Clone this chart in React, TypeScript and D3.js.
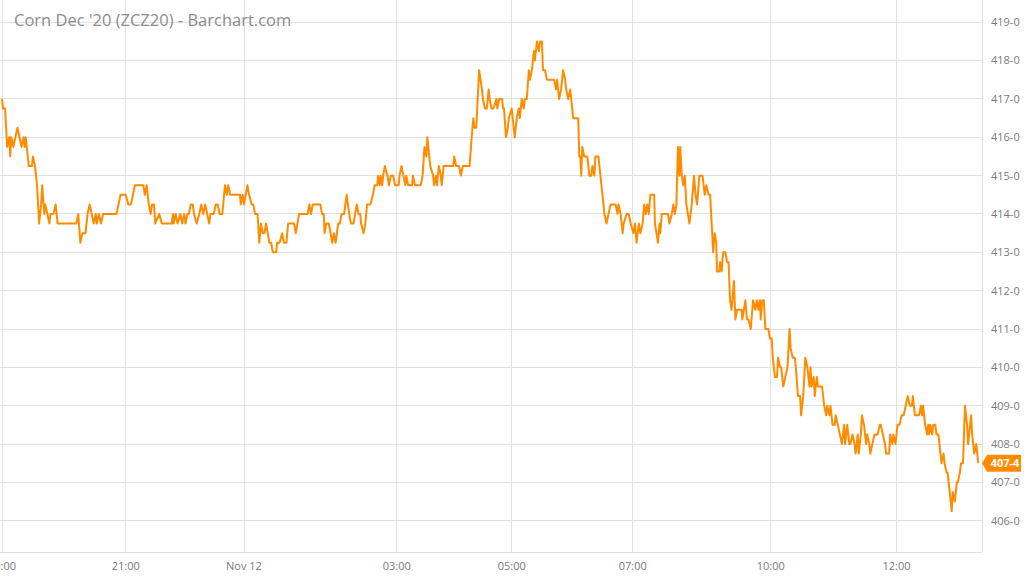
import React from "react";
import * as d3 from "d3";

// minutes after the 19:00 open (Nov 11), price in cents
const evening: [number, number][] = [
  [0, 417], [1, 416.75], [3, 416.75], [5, 415.75], [7, 416], [8, 415.5], [9, 416], [11, 415.75], [13, 416],
  [15, 416.25], [17, 416], [19, 415.75], [21, 416], [22, 415.75], [23, 416], [26, 415.25], [29, 415.25],
  [30, 415.5], [32, 415.25], [34, 414.75], [36, 413.75], [38, 414.25], [39, 414.75], [41, 414], [42, 414.25],
  [44, 414], [46, 413.75], [47, 414], [50, 414], [52, 414.25], [54, 413.75], [72, 413.75], [74, 414],
  [76, 413.25], [78, 413.5], [81, 413.5], [83, 414], [85, 414.25], [87, 414], [89, 413.75], [91, 414],
  [92, 413.75], [94, 414], [96, 413.75], [98, 414], [111, 414], [113, 414.25], [115, 414.5], [120, 414.5],
  [124, 414.25], [128, 414.25], [131, 414.5], [134, 414.75], [147, 414.75], [149, 414.5], [152, 414.75],
  [155, 414.25], [158, 414], [160, 414.25], [163, 414.25], [165, 413.75], [171, 414], [175, 413.75],
  [190, 413.75], [192, 414], [193, 413.75], [196, 414], [199, 413.75], [203, 414], [206, 413.75], [209, 414],
  [211, 413.75], [214, 414], [216, 414], [219, 414.25], [222, 414.25], [224, 414], [228, 413.75], [232, 414],
  [235, 414.25], [238, 414], [241, 414.25], [244, 414], [247, 413.75], [249, 414], [254, 414], [257, 414.25],
  [260, 414.25], [263, 414], [267, 414], [271, 414.75], [274, 414.5], [276, 414.75], [279, 414.5],
  [294, 414.5], [295, 414.25], [298, 414.5],
];

const overnight: [number, number][] = [
  [300, 414.25], [302, 414.5], [304, 414.75], [306, 414.5], [309, 414.25], [311, 414.25], [313, 414],
  [316, 414], [318, 413.25], [320, 413.75], [322, 413.5], [324, 413.5], [326, 413.75], [328, 413.5],
  [330, 413.25], [332, 413.25], [334, 413], [338, 413], [339, 413.25], [342, 413.25], [345, 413.5],
  [347, 413.25], [350, 413.25], [352, 413.75], [359, 413.75], [361, 413.5], [363, 413.75], [365, 414],
  [369, 414], [375, 414], [377, 414.25], [379, 414], [381, 414.25], [390, 414.25], [392, 414], [394, 414],
  [395, 413.5], [397, 413.75], [400, 413.75], [402, 413.5], [404, 413.25], [406, 413.5], [408, 413.25],
  [411, 413.75], [413, 413.75], [415, 414], [418, 414], [421, 414.5], [424, 414], [426, 413.75],
  [429, 413.75], [431, 414], [433, 414.25], [435, 414], [437, 414], [438, 413.75], [441, 413.5],
  [443, 413.75], [445, 414.25], [449, 414.25], [452, 414.5], [454, 414.75], [457, 414.75], [458, 415],
  [460, 414.75], [461, 415], [463, 414.75], [464, 415], [466, 415.25], [469, 415], [471, 414.75], [473, 415],
  [476, 415], [478, 414.75], [482, 414.75], [483, 415], [485, 415.25], [487, 415], [489, 414.75], [490, 415],
  [492, 414.75], [496, 414.75], [497, 415], [499, 414.75], [505, 414.75], [507, 415], [509, 415.75],
  [511, 415.5], [512, 416], [514, 415.5], [515, 415.25], [518, 415], [519, 414.75], [521, 415],
  [522, 414.75], [524, 415.25], [526, 415], [527, 414.75], [529, 415.25], [531, 415.25], [539, 415.25],
  [540, 415.5], [542, 415.25], [545, 415.25], [547, 415], [549, 415.25], [556, 415.25], [559, 416.25],
  [560, 416.5], [561, 416.25], [563, 416.25], [566, 417.75], [569, 417.25], [570, 417], [572, 416.75],
  [574, 416.75], [576, 417.25], [577, 417], [579, 416.75], [581, 416.75], [584, 417], [585, 416.75],
  [587, 417], [590, 417], [591, 416.75], [592, 416.75], [594, 416], [596, 416.25], [597, 416.5],
];

const morning: [number, number][] = [
  [600, 416.75], [602, 416.25], [603, 416], [605, 416.5], [607, 416.75], [608, 416.5], [610, 417],
  [612, 416.75], [613, 417], [615, 417], [617, 417.75], [618, 417.5], [620, 417.75], [622, 418.25],
  [623, 418], [624, 418.25], [625, 418.5], [627, 418.25], [628, 418.5], [630, 418.5], [631, 417.75],
  [633, 417.75], [635, 417.5], [642, 417.5], [644, 417.25], [645, 417.5], [647, 417], [649, 417.25],
  [651, 417.75], [653, 417.5], [654, 417.25], [656, 417], [658, 417.25], [659, 417], [661, 416.5],
  [666, 416.5], [667, 415.5], [668, 415.5], [669, 415], [670, 415.75], [672, 415.5], [675, 415.5],
  [677, 415], [679, 415], [680, 415.25], [682, 415], [683, 415.5], [686, 415.5], [688, 415], [690, 414.5],
  [692, 414], [694, 413.75], [696, 414], [698, 414.25], [703, 414.25], [705, 414], [706, 414.25], [708, 414],
  [710, 413.5], [711, 413.75], [714, 414], [716, 414], [718, 413.75], [721, 413.5], [723, 413.75],
  [725, 413.25], [728, 413.75], [730, 413.5], [733, 413.75], [735, 414.25], [737, 414], [739, 414.25],
  [741, 414], [743, 414.5], [746, 414.5], [748, 414.5], [749, 413.75], [751, 413.5], [753, 413.25],
  [755, 413.75], [756, 413.5], [758, 414], [766, 414], [768, 413.75], [771, 414], [773, 414.25], [775, 414],
  [777, 414.25], [779, 415.75], [781, 415], [782, 415.75], [784, 415], [786, 414.75], [788, 415],
  [790, 414.25], [792, 414], [794, 413.75], [797, 414.25], [798, 414.5], [800, 415], [802, 414.5],
  [804, 414.25], [807, 415], [811, 415], [814, 414.5], [816, 414.75], [819, 414.5], [821, 414.5],
  [823, 413.75], [825, 413], [827, 413.5], [829, 413.25], [830, 412.5], [833, 412.5], [834, 412.75],
  [836, 412.5], [838, 413], [841, 413], [843, 412.75], [845, 412.75], [847, 411.75], [849, 411.5],
  [852, 412.25], [854, 411.25], [856, 411.5], [862, 411.5], [863, 411.25], [865, 411.5], [867, 411.75],
  [869, 411.25], [871, 411.25], [874, 411], [877, 411.75], [880, 411.5], [882, 411.75], [884, 411.5],
  [886, 411.75], [887, 411.25], [889, 411.75], [891, 411.75], [893, 411], [897, 411], [899, 410.75],
];

const midday: [number, number][] = [
  [901, 410.75], [902, 410.25], [904, 409.75], [906, 409.75], [907, 410.25], [909, 410], [910, 410],
  [912, 409.5], [914, 409.75], [916, 410], [918, 411], [919, 410.5], [921, 410.25], [923, 410.25],
  [924, 410], [926, 409.25], [928, 409.25], [929, 408.75], [931, 409.25], [933, 410.25], [935, 410],
  [937, 409.5], [938, 410], [939, 409.5], [941, 409.75], [942, 409.25], [944, 409.75], [945, 409.5],
  [949, 409.5], [951, 409], [953, 408.75], [954, 409], [956, 408.75], [957, 409], [959, 408.5], [961, 408.5],
  [962, 408.75], [964, 408.5], [966, 408.25], [968, 408], [970, 408.5], [971, 408], [973, 408.5], [975, 408],
  [976, 408], [978, 408.25], [980, 408], [981, 407.75], [983, 408.25], [984, 407.75], [986, 408.25],
  [987, 408.75], [989, 408.5], [991, 408], [992, 408.25], [994, 408], [995, 407.75], [997, 408],
  [999, 408.25], [1002, 408.25], [1004, 408.5], [1005, 408.5], [1007, 408.25], [1009, 408], [1010, 407.75],
  [1013, 407.75], [1014, 408.25], [1016, 408], [1017, 408.25], [1019, 408], [1020, 408.25], [1021, 408.5],
  [1023, 408.5], [1025, 408.75], [1027, 408.75], [1029, 409], [1031, 409.25], [1033, 409], [1035, 409],
  [1036, 409.25], [1038, 408.75], [1040, 408.75], [1042, 408.75], [1044, 409], [1045, 408.75], [1046, 409],
  [1048, 408.5], [1050, 408.25], [1051, 408.5], [1052, 408.25], [1053, 408.5], [1055, 408.25],
  [1056, 408.5], [1058, 408.5], [1059, 408.25], [1061, 408.25], [1063, 407.75], [1064, 407.5],
  [1066, 407.75], [1067, 407.5], [1069, 407.25], [1070, 407.25], [1072, 406.75], [1074, 406.25],
  [1075, 406.75], [1077, 406.5], [1079, 407], [1080, 407], [1082, 407.25], [1083, 407.5], [1085, 407.5],
  [1087, 409], [1089, 408.5], [1090, 408], [1092, 408.5], [1093, 408.75], [1094, 408.25], [1096, 407.75],
  [1098, 408], [1100, 407.5],
];

const tickLabels = ["19:00", "21:00", "Nov 12", "03:00", "05:00", "07:00", "10:00", "12:00"];
const tickMinutes = [0, 120, 300, 480, 600, 720, 900, 1020];
const sessionEnd = 1100;
const priceTicks = d3.range(406, 420);
const title = "Corn Dec '20 (ZCZ20) - Barchart.com";

const width = 1024;
const height = 576;
const plotRight = 982;
const plotBottom = 552;
const orange = "#ff8c00";
const font = "'Open Sans', 'Noto Sans', sans-serif";

// barchart squeezes the time axis by session, so the scale is piecewise
const tickX = [2, 125.7, 244, 396.7, 511.7, 632.7, 770.7, 896.5];

const fmt = (p: number) => `${Math.floor(p)}-${Math.round((p - Math.floor(p)) * 8)}`;

export default function App() {
  const data = [...evening, ...overnight, ...morning, ...midday];

  const x = d3
    .scaleLinear()
    .domain([...tickMinutes, sessionEnd])
    .range([...tickX, 978.3]);

  const y = d3.scaleLinear().domain([406, 419]).range([520.7, 22.3]);

  const line = d3
    .line<[number, number]>()
    .x(d => x(d[0]))
    .y(d => y(d[1]));

  const last = data[data.length - 1];
  const ly = y(last[1]);

  return (
    <svg
      width={width}
      height={height}
      style={{ position: "absolute", left: 0, top: 0, background: "#fff" }}
      fontFamily={font}
    >
      <g stroke="#e1e1e1" strokeWidth={1} shapeRendering="crispEdges">
        {priceTicks.map(p => (
          <line key={p} x1={0} x2={plotRight} y1={y(p)} y2={y(p)} />
        ))}
        {tickMinutes.map(m => (
          <line key={m} x1={x(m)} x2={x(m)} y1={0} y2={plotBottom} />
        ))}
        <line x1={0} x2={plotRight} y1={plotBottom} y2={plotBottom} />
        <line x1={plotRight} x2={plotRight} y1={0} y2={plotBottom} />
      </g>

      <text x={14} y={26} fontSize={16.5} fill="#8c8c8c">
        {title}
      </text>

      <g fontSize={11} fill="#7a7a7a">
        {priceTicks.map(p => (
          <text key={p} x={991} y={y(p)} dy="0.35em">
            {fmt(p)}
          </text>
        ))}
        {tickMinutes.map((m, i) => (
          <text key={m} x={x(m)} y={569.5} textAnchor="middle">
            {tickLabels[i]}
          </text>
        ))}
      </g>

      <path d={line(data) ?? undefined} fill="none" stroke={orange} strokeWidth={2} strokeLinejoin="round" />

      <g>
        <path
          d={`M${plotRight},${ly} L${plotRight + 5},${ly - 8.5} L1021,${ly - 8.5} L1021,${ly + 8.5} L${plotRight + 5},${ly + 8.5} Z`}
          fill={orange}
        />
        <text x={1005} y={ly} dy="0.35em" textAnchor="middle" fontSize={11} fontWeight="bold" fill="#fff">
          {fmt(last[1])}
        </text>
      </g>
    </svg>
  );
}
